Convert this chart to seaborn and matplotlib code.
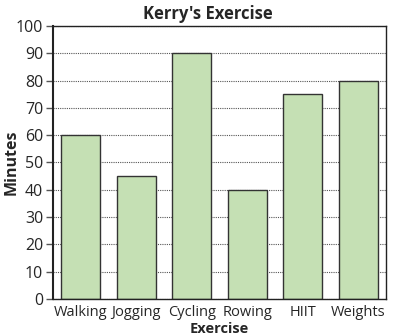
import matplotlib
matplotlib.use("Agg")
import matplotlib.pyplot as plt
import seaborn as sns
import pandas as pd

exercises = ["Walking", "Jogging", "Cycling", "Rowing", "HIIT", "Weights"]
minutes = [60, 45, 90, 40, 75, 80]
yticks = list(range(0, 101, 10))

sns.set_style("white")
plt.rcParams['font.family'] = ['Open Sans', 'DejaVu Sans']

df = pd.DataFrame({"Exercise": exercises, "Minutes": minutes})

fig = plt.figure(figsize=(3.95, 3.36), dpi=100)
ax = fig.add_axes([0.134, 0.110, 0.843, 0.813])
sns.barplot(data=df, x="Exercise", y="Minutes", ax=ax, color="#c5e0b4",
            edgecolor="#333333", linewidth=1.0, width=0.7, saturation=1)
ax.set_ylim(0, 100)
ax.set_yticks(yticks)
ax.set_xlim(-0.5, len(exercises) - 0.5)
ax.yaxis.grid(True, linestyle=(0, (1, 1)), color="#555555", linewidth=0.8)
ax.set_axisbelow(True)
for s in ax.spines.values():
    s.set_color("#222222")
    s.set_linewidth(1.0)
ax.spines['left'].set_linewidth(1.5)
ax.tick_params(axis='y', left=True, length=5, width=1, color="#555555", labelsize=11.5, pad=2)
ax.tick_params(axis='x', bottom=False, labelsize=10.5, pad=1)
ax.set_title("Kerry's Exercise", fontsize=12, fontweight='bold', pad=5, x=0.466)
ax.set_xlabel("Exercise", fontsize=10.5, fontweight='bold')
ax.set_ylabel("Minutes", fontsize=11.5, fontweight='bold')
ax.yaxis.set_label_coords(-0.10, 0.5)
ax.xaxis.set_label_coords(0.5, -0.085)
fig.savefig("out.png", dpi=100)
